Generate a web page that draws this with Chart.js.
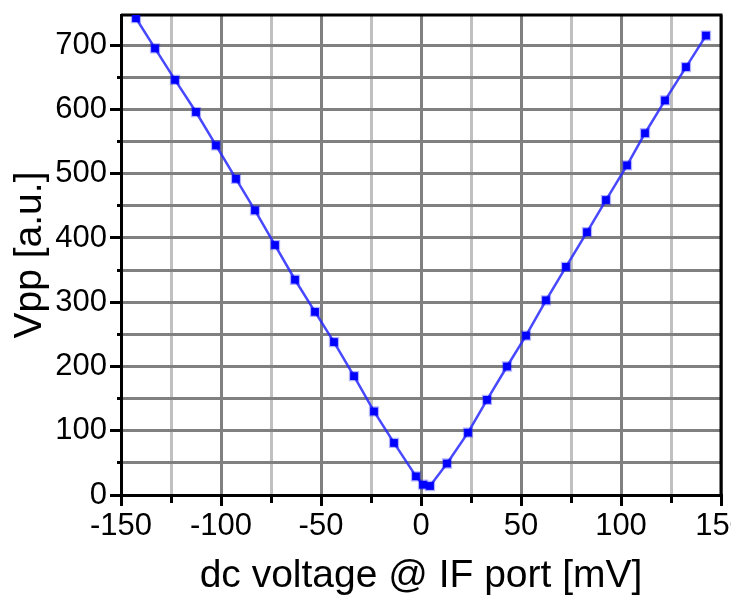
<!DOCTYPE html>
<html>
<head>
<meta charset="utf-8">
<title>Vpp vs dc voltage</title>
<script src="https://cdn.jsdelivr.net/npm/chart.js@4.4.1/dist/chart.umd.min.js"></script>
<style>
    body { margin: 0; background: #fff; }
    #wrap { width: 731px; height: 596px; }
</style>
</head>
<body>
<div id="wrap"><canvas id="model" width="731" height="596"></canvas></div>
<script>
// dc voltage at the IF port [mV]
const voltage = [-142.5, -133, -123, -112.5, -102.5, -92.5, -83, -73, -63, -53,
    -43.5, -33.5, -23.5, -13.5, -2.5, 1, 4.5, 13, 23.5, 33,
    43, 52.5, 62.5, 72.5, 83, 92.5, 103, 112, 122, 132.5, 142.5]

// measured peak to peak value [a.u.]
const vpp = [742, 695, 646, 596, 544, 492, 443, 389, 335, 285,
    238, 185, 130, 81, 29, 16, 14, 49, 97, 148,
    200, 248, 303, 355, 409, 459, 513, 563, 614, 666, 715]

// axis ranges and labelled ticks
const xRange = [-150, 150]
const yRange = [0, 747]
const xLabelled = [-150, -100, -50, 0, 50, 100, 150]
const yLabelled = [0, 100, 200, 300, 400, 500, 600, 700]

const FONT = "'Liberation Sans', Arial, sans-serif"

let points = []
for (let i = 0; i < voltage.length; i++) {
    points.push({x: voltage[i], y: vpp[i]})
}

// closes the plot frame on the top and right side
const frame = {
    id: 'frame',
    beforeDatasetsDraw (chart) {
        const a = chart.chartArea
        const ctx = chart.ctx
        ctx.save()
        ctx.strokeStyle = '#000'
        ctx.lineWidth = 3
        ctx.beginPath()
        ctx.moveTo(a.left, a.top)
        ctx.lineTo(a.right, a.top)
        ctx.lineTo(a.right, a.bottom)
        ctx.stroke()
        ctx.restore()
    }
}

new Chart(document.getElementById('model'), {
    type: 'scatter',
    data: {
        datasets: [{
            data: points,
            showLine: true,
            borderColor: 'rgba(40, 40, 255, 0.85)',
            borderWidth: 2.5,
            pointStyle: 'rect',
            pointRadius: 5.5,
            pointBackgroundColor: '#0000ff',
            pointBorderColor: 'rgba(0, 0, 255, 0.3)',
            pointBorderWidth: 2.5,
            tension: 0
        }]
    },
    options: {
        responsive: false,
        animation: false,
        layout: { padding: { top: 15, right: 10, left: 0, bottom: 0 } },
        plugins: {
            legend: { display: false },
            tooltip: { enabled: false }
        },
        scales: {
            x: {
                type: 'linear',
                min: xRange[0],
                max: xRange[1],
                afterFit (scale) {
                    scale.height = 101
                    scale.paddingLeft = 0
                    scale.paddingRight = 0
                },
                ticks: {
                    stepSize: 25,
                    autoSkip: false,
                    maxRotation: 0,
                    minRotation: 0,
                    padding: 2,
                    color: '#000',
                    font: { family: FONT, size: 31 },
                    callback: (v) => xLabelled.includes(v) ? String(v) : ''
                },
                grid: {
                    color: (c) => (c.tick && c.tick.value % 50 === 0) ? '#808080' : '#c0c0c0',
                    lineWidth: 3,
                    tickLength: 11,
                    tickColor: '#000',
                    tickWidth: 3,
                    tickBorderDash: (c) => (c.tick && c.tick.value % 50 === 0) ? [] : [6, 100]
                },
                border: { color: '#000', width: 3 },
                title: {
                    display: true,
                    text: 'dc voltage @ IF port [mV]',
                    color: '#000',
                    font: { family: FONT, size: 39, lineHeight: 1 },
                    padding: { top: 0, bottom: 0 }
                }
            },
            y: {
                type: 'linear',
                min: yRange[0],
                max: yRange[1],
                afterFit (scale) {
                    scale.width = 121
                    scale.paddingTop = 0
                    scale.paddingBottom = 0
                },
                ticks: {
                    stepSize: 50,
                    includeBounds: false,
                    autoSkip: false,
                    padding: 3,
                    color: '#000',
                    font: { family: FONT, size: 31 },
                    callback: (v) => yLabelled.includes(v) ? String(v) : ''
                },
                grid: {
                    color: '#808080',
                    lineWidth: 3,
                    tickLength: 11,
                    tickColor: '#000',
                    tickWidth: 3,
                    tickBorderDash: (c) => (c.tick && c.tick.value % 100 === 0) ? [] : [0, 7, 4, 100]
                },
                border: { color: '#000', width: 3 },
                title: {
                    display: true,
                    text: 'Vpp [a.u.]',
                    color: '#000',
                    font: { family: FONT, size: 39, lineHeight: 1.2 },
                    padding: { top: 7, bottom: 0 }
                }
            }
        }
    },
    plugins: [frame]
})
</script>
</body>
</html>
